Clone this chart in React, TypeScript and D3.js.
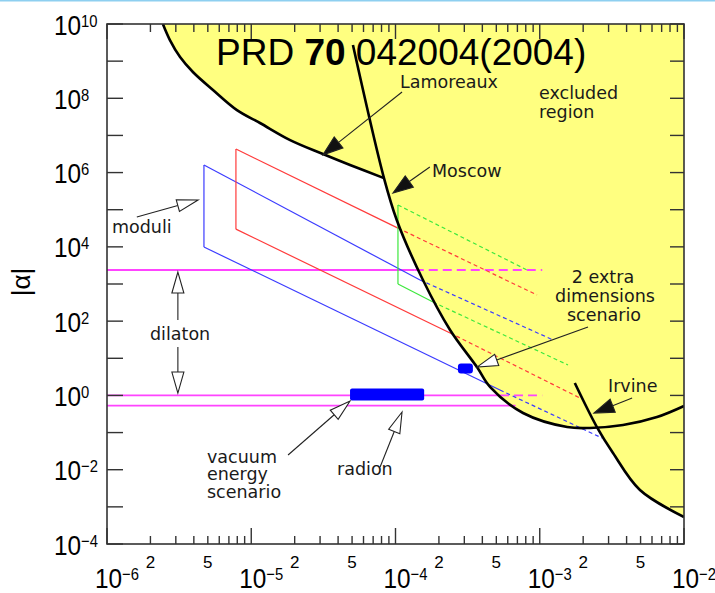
import React from "react";
import * as d3 from "d3";

type P = [number, number];

// ---------- data (lambda in m, |alpha|) ----------
const lamoreaux: P[] = [
  [2.44e-6, 1e10], [2.73e-6, 3.7e9], [3.21e-6, 1.29e9], [3.94e-6, 5.1e8],
  [5.43e-6, 1.67e8], [7.96e-6, 4.8e7], [1.15e-5, 2.16e7], [1.86e-5, 7.5e6],
  [3.14e-5, 3.16e6], [4.84e-5, 1.6e6], [8.32e-5, 7.1e5],
];
const moscow: P[] = [
  [5.07e-5, 2.72e9], [8.32e-5, 7.1e5], [1.02e-4, 5.3e4], [1.55e-4, 1.28e3],
  [2.39e-4, 57.8], [3.67e-4, 5.8], [4.52e-4, 1.69], [7.66e-4, 0.336],
  [1.55e-3, 0.141], [2.23e-3, 0.133], [3.78e-3, 0.16], [6.5e-3, 0.262], [1e-2, 0.52],
];
const irvine: P[] = [
  [1.75e-3, 2.16], [2.49e-3, 0.141], [3.22e-3, 0.0282], [4.95e-3, 2.84e-3], [1e-2, 5.33e-4],
];
const lamoreauxMoscowJoin = 8.32e-5;
const moscowIrvineCross: P = [2.45e-3, 0.137];

// model bands: [start, end of solid part, end of dashed part]
const blueUpper: P[] = [[4.7e-6, 1.6e6], [1.48e-4, 1.28e3], [1.24e-3, 31]];
const blueLower: P[] = [[4.7e-6, 9.9e3], [5.3e-4, 1.4], [2.7e-3, 0.0714]];
const redUpper: P[] = [[7.83e-6, 4.3e6], [1.04e-4, 3.2e4], [9.57e-4, 506]];
const redLower: P[] = [[7.83e-6, 3.0e4], [2.39e-4, 48], [1.9e-3, 0.853]];
const greenUpper: P[] = [[1.04e-4, 1.34e5], [1.04e-4, 1.34e5], [8.17e-4, 2.38e3]];
const greenLower: P[] = [[1.04e-4, 1.0e3], [1.82e-4, 327], [1.57e-3, 6.6]];

// dilaton horizontal lines: alpha, solid end, dashed end
const dilatonAlpha = [2.38e3, 1.0, 0.53];
const dilatonSolidEnd = [1.36e-4, 5.3e-4, 6.8e-4];
const dilatonDashEnd = [1.04e-3, 1.04e-3, 6.8e-4];

// radion blobs: [lambda from, lambda to, alpha]
const radionBar = [4.84e-5, 1.58e-4, 1.0];
const extraDimBar = [2.71e-4, 3.44e-4, 5.3];

// annotation arrows (tail, tip) in data coordinates
const arrowTails: P[] = [
  [1.11e-4, 1.48e8], [1.73e-4, 1.41e6], [4.37e-3, 0.853], [1.61e-6, 6.4e4],
  [3.1e-6, 107], [3.1e-6, 20], [1.8e-5, 0.0249], [7.82e-5, 0.0118], [2.16e-3, 69.5],
];
const arrowTips: P[] = [
  [3.14e-5, 3.0e6], [9.6e-5, 2.8e5], [2.38e-3, 0.336], [4.28e-6, 1.83e5],
  [3.1e-6, 2.1e3], [3.1e-6, 1.16], [4.84e-5, 0.71], [1.11e-4, 0.358], [3.67e-4, 5.8],
];
const arrowFilled = [true, true, true, false, false, false, false, false, false];

// ticks
const xMajorExp = [-6, -5, -4, -3, -2];
const xMinorMult = [2, 3, 4, 5, 6, 7, 8, 9];
const xMinorLabel = [2, 5];
const yTickExp = [-4, -3, -2, -1, 0, 1, 2, 3, 4, 5, 6, 7, 8, 9, 10];
const yLabelExp = [-4, -2, 0, 2, 4, 6, 8, 10];

// text labels
const labels: { t: string; x: number; y: number; anchor?: string }[] = [
  { t: "Lamoreaux", x: 400, y: 88 },
  { t: "excluded", x: 539, y: 99 },
  { t: "region", x: 539, y: 118 },
  { t: "Moscow", x: 432, y: 177 },
  { t: "moduli", x: 112, y: 233 },
  { t: "dilaton", x: 150, y: 340 },
  { t: "2 extra", x: 603, y: 283, anchor: "middle" },
  { t: "dimensions", x: 605, y: 302, anchor: "middle" },
  { t: "scenario", x: 604, y: 321, anchor: "middle" },
  { t: "Irvine", x: 608, y: 392 },
  { t: "vacuum", x: 207, y: 463 },
  { t: "energy", x: 207, y: 480 },
  { t: "scenario", x: 207, y: 498 },
  { t: "radion", x: 337, y: 475 },
];

// ---------- layout ----------
const W = 715, H = 593;
const L = 107, R = 684, T = 24, B = 544;
const x = d3.scaleLog().domain([1e-6, 1e-2]).range([L, R]);
const y = d3.scaleLog().domain([1e-4, 1e10]).range([B, T]);

const curve = d3.curveCatmullRom.alpha(0.5);
const lineGen = d3.line<P>().x((d) => x(d[0])).y((d) => y(d[1])).curve(curve);
const straight = d3.line<P>().x((d) => x(d[0])).y((d) => y(d[1]));

const numFont = "'Liberation Sans', Arial, sans-serif";
const lblFont = "'DejaVu Sans', Verdana, sans-serif";

const BLUE = "#3b3bff", RED = "#ff3b3b", GREEN = "#3de83d", MAG = "#ff44ff";

function fillPath(): string {
  const seg1 = lamoreaux;
  const seg2: P[] = [
    ...moscow.filter((d) => d[0] >= lamoreauxMoscowJoin && d[0] < moscowIrvineCross[0]),
    moscowIrvineCross,
  ];
  const seg3: P[] = [moscowIrvineCross, ...irvine.filter((d) => d[0] > moscowIrvineCross[0] * 1.1)];
  const p1 = lineGen(seg1) || "";
  const p2 = (lineGen(seg2) || "").replace(/^M/, "L");
  const p3 = (lineGen(seg3) || "").replace(/^M/, "L");
  return `${p1}${p2}${p3}L${x(1e-2)},${y(1e10)}L${x(lamoreaux[0][0])},${y(1e10)}Z`;
}

function Band({ up, lo, color }: { up: P[]; lo: P[]; color: string }) {
  return (
    <g stroke={color} strokeWidth={1.2} fill="none">
      <path d={straight([up[0], lo[0]]) || ""} />
      <path d={straight([up[0], up[1]]) || ""} />
      <path d={straight([up[1], up[2]]) || ""} strokeDasharray="4 3" />
      <path d={straight([lo[0], lo[1]]) || ""} />
      <path d={straight([lo[1], lo[2]]) || ""} strokeDasharray="4 3" />
    </g>
  );
}

function Arrow({ tail, tip, filled }: { tail: P; tip: P; filled: boolean }) {
  const x1 = x(tail[0]), y1 = y(tail[1]);
  const x2 = x(tip[0]), y2 = y(tip[1]);
  const dx = x2 - x1, dy = y2 - y1;
  const len = Math.hypot(dx, dy);
  const ux = dx / len, uy = dy / len;
  const hl = filled ? 20 : 21;
  const hw = filled ? 7 : 6;
  const bx = x2 - ux * hl, by = y2 - uy * hl;
  const px = -uy, py = ux;
  const pts = `${x2},${y2} ${bx + px * hw},${by + py * hw} ${bx - px * hw},${by - py * hw}`;
  return (
    <g>
      <line x1={x1} y1={y1} x2={bx} y2={by} stroke="#222" strokeWidth={1.1} />
      <polygon points={pts} fill={filled ? "#111" : "#fff"} stroke="#222" strokeWidth={1.1} strokeLinejoin="miter" />
    </g>
  );
}

function sup(e: number) {
  return e < 0 ? "\u2212" + -e : String(e);
}

function PowLabel({ tx, ty, e }: { tx: number; ty: number; e: number }) {
  return (
    <g transform={`translate(${tx},${ty}) scale(0.87,1)`}>
      <text x={0} y={0} fontFamily={numFont} fontSize={28} fill="#000">
        <tspan>10</tspan>
        <tspan dy={-8} fontSize={17}>{sup(e)}</tspan>
      </text>
    </g>
  );
}

export default function App() {
  const minorX: number[] = [];
  for (let e = -6; e < -2; e++) for (const m of xMinorMult) minorX.push(m * Math.pow(10, e));
  const minorLab: number[] = [];
  for (let e = -6; e < -2; e++) for (const m of xMinorLabel) minorLab.push(m * Math.pow(10, e));

  return (
    <div style={{ position: "absolute", left: 0, top: 0 }}>
      <svg width={W} height={H} style={{ display: "block", background: "#fff" }}>
        <line x1={0} x2={W} y1={0.8} y2={0.8} stroke="#8ecff0" strokeWidth={1.6} />
        <defs>
          <clipPath id="plot">
            <rect x={L} y={T} width={R - L} height={B - T} />
          </clipPath>
        </defs>
        <g clipPath="url(#plot)">
          <path d={fillPath()} fill="#ffff80" />

          {/* dilaton lines */}
          {dilatonAlpha.map((a, i) => (
            <g key={"dl" + i} stroke={MAG} strokeWidth={1.8}>
              <line x1={L} x2={x(dilatonSolidEnd[i])} y1={y(a)} y2={y(a)} />
              {dilatonDashEnd[i] > dilatonSolidEnd[i] && (
                <line x1={x(dilatonSolidEnd[i])} x2={x(dilatonDashEnd[i])} y1={y(a)} y2={y(a)} strokeDasharray="9 5" />
              )}
            </g>
          ))}

          <Band up={blueUpper} lo={blueLower} color={BLUE} />
          <Band up={redUpper} lo={redLower} color={RED} />
          <Band up={greenUpper} lo={greenLower} color={GREEN} />

          {/* radion blobs */}
          <rect x={x(radionBar[0])} y={y(radionBar[2]) - 7} width={x(radionBar[1]) - x(radionBar[0])} height={12} rx={2} fill="#0000ff" />
          <rect x={x(extraDimBar[0])} y={y(extraDimBar[2]) - 5} width={x(extraDimBar[1]) - x(extraDimBar[0])} height={10} rx={3} fill="#0000ff" />

          {/* boundary curves */}
          <path d={lineGen(lamoreaux) || ""} fill="none" stroke="#000" strokeWidth={2.6} />
          <path d={lineGen(moscow) || ""} fill="none" stroke="#000" strokeWidth={2.6} />
          <path d={lineGen(irvine) || ""} fill="none" stroke="#000" strokeWidth={2.6} />
        </g>

        {/* arrows */}
        {arrowTails.map((t, i) => (
          <Arrow key={"a" + i} tail={t} tip={arrowTips[i]} filled={arrowFilled[i]} />
        ))}

        {/* labels */}
        {labels.map((l, i) => (
          <text key={"l" + i} x={l.x} y={l.y} fontFamily={lblFont} fontSize={17.5} fill="#1a1a1a" textAnchor={l.anchor || "start"}>
            {l.t}
          </text>
        ))}

        {/* title */}
        <text x={216} y={65} fontFamily="'Liberation Sans', Arial, sans-serif" fontSize={37} fill="#000">
          PRD <tspan fontWeight="bold">70</tspan> 042004(2004)
        </text>

        {/* frame */}
        <rect x={L} y={T} width={R - L} height={B - T} fill="none" stroke="#333" strokeWidth={1.6} />

        {/* ticks */}
        <g stroke="#333" strokeWidth={1.4}>
          {xMajorExp.map((e) => (
            <g key={"xM" + e}>
              <line x1={x(10 ** e)} x2={x(10 ** e)} y1={B} y2={B - 16} />
              <line x1={x(10 ** e)} x2={x(10 ** e)} y1={T} y2={T + 15} />
            </g>
          ))}
          {minorX.map((v, i) => (
            <g key={"xm" + i}>
              <line x1={x(v)} x2={x(v)} y1={B} y2={B - 8} />
              <line x1={x(v)} x2={x(v)} y1={T} y2={T + 8} />
            </g>
          ))}
          {yTickExp.map((e) => (
            <g key={"yt" + e}>
              <line x1={L} x2={L + 16} y1={y(10 ** e)} y2={y(10 ** e)} />
              <line x1={R} x2={R - 14} y1={y(10 ** e)} y2={y(10 ** e)} />
            </g>
          ))}
        </g>

        {/* x labels */}
        {xMajorExp.map((e) => (
          <PowLabel key={"xl" + e} tx={x(10 ** e) - 12} ty={588} e={e} />
        ))}
        {minorLab.map((v, i) => (
          <text key={"xs" + i} x={x(v)} y={568} fontFamily={numFont} fontSize={17} textAnchor="middle" fill="#000">
            {xMinorLabel[i % 2]}
          </text>
        ))}

        {/* y labels */}
        {yLabelExp.map((e) => (
          <PowLabel key={"yl" + e} tx={54} ty={y(10 ** e) + 10.5} e={e} />
        ))}

        {/* y axis title */}
        <text transform="translate(30,282) rotate(-90)" textAnchor="middle" fontFamily="'Liberation Sans', Arial, sans-serif" fontSize={26} fill="#000">
          |α|
        </text>
      </svg>
    </div>
  );
}
